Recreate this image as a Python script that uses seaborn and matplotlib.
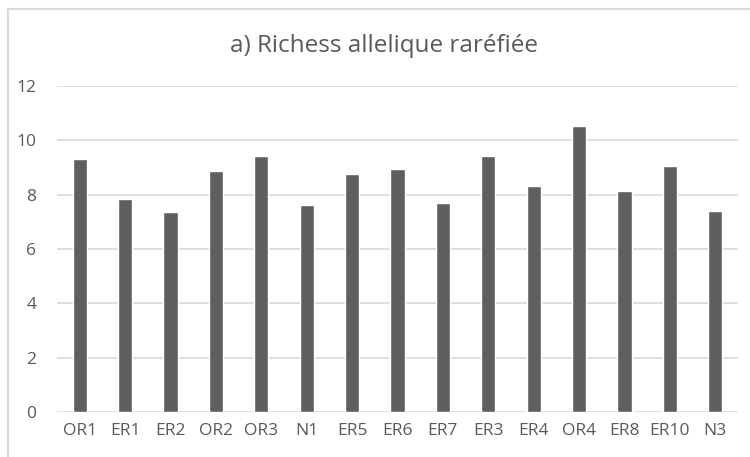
import matplotlib
matplotlib.use("Agg")
import matplotlib.pyplot as plt
import seaborn as sns
import pandas as pd
from matplotlib.lines import Line2D

populations = ["OR1", "ER1", "ER2", "OR2", "OR3", "N1", "ER5", "ER6",
               "ER7", "ER3", "ER4", "OR4", "ER8", "ER10", "N3"]
richness = [9.31, 7.84, 7.36, 8.88, 9.43, 7.62, 8.77, 8.96,
            7.69, 9.43, 8.33, 10.54, 8.13, 9.07, 7.40]
y_ticks = [0, 2, 4, 6, 8, 10, 12]

df = pd.DataFrame({"population": populations, "richness": richness})

sns.set_theme(style="white")
plt.rcParams["font.family"] = ["Open Sans", "DejaVu Sans"]

grey_text = "#595959"
grid_col = "#d9d9d9"

fig = plt.figure(figsize=(7.5, 4.57), dpi=100)
ax = fig.add_axes([0.076, 0.0985, 0.908, 0.7135])

ax.set_axisbelow(True)
for t in y_ticks:
    ax.axhline(t, color=grid_col, linewidth=1.2, zorder=0)

sns.barplot(data=df, x="population", y="richness", color="#5f5f5f",
            width=0.31, saturation=1, ax=ax, zorder=2)

ax.set_ylim(0, 12)
ax.set_xlim(-0.5, len(populations) - 0.5)
ax.set_yticks(y_ticks)
ax.set_yticklabels([str(t) for t in y_ticks])
ax.set_xlabel("")
ax.set_ylabel("")
for s in ax.spines.values():
    s.set_visible(False)
ax.tick_params(axis="both", length=0, labelsize=12.5, colors=grey_text)
ax.tick_params(axis="y", pad=15)
ax.tick_params(axis="x", pad=8)

fig.text(0.512, 0.9, "a) Richess allelique raréfiée", ha="center", va="center",
         fontsize=17.5, color=grey_text)

# chart border (only left and top edges are visible in the crop)
fig.add_artist(Line2D([0.0107, 0.0107], [0, 0.980], transform=fig.transFigure,
                      color=grid_col, linewidth=1.5))
fig.add_artist(Line2D([0.0107, 1.0], [0.980, 0.980], transform=fig.transFigure,
                      color=grid_col, linewidth=1.5))

fig.savefig("out.png", dpi=100, facecolor="white")
plt.close(fig)
